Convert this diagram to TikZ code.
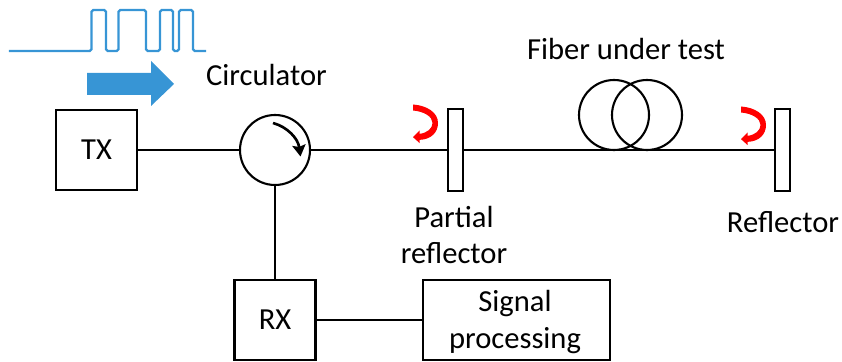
\documentclass[tikz,border=0pt]{standalone}
\usepackage{fontspec}
\setmainfont{Carlito}
\usepackage{xcolor}
\usetikzlibrary{arrows.meta}
\definecolor{pulseblue}{HTML}{3795D5}
\tikzset{
    lbl/.style={font=\fontsize{17.4}{20.5}\selectfont, align=center, inner sep=0pt},
    blockbox/.style={lbl, draw, line width=1.2pt, minimum width=1.62cm, minimum height=1.6cm, outer sep=0pt},
    mirrorbox/.style={draw, line width=1pt, fill=white, minimum width=0.3cm, minimum height=1.64cm, outer sep=0pt, inner sep=0pt},
    loopcircle/.style={draw, circle, line width=1.2pt, minimum size=1.4cm, outer sep=0pt, inner sep=0pt},
    wire/.style={line width=1.1pt}
}
\newcommand{\redturn}[2]{
    \fill[red, shift={(#1,#2)}] (0,0) -- (0,-0.12) .. controls (0.22,-0.14) and (0.39,-0.24) .. (0.39,-0.37)
        .. controls (0.39,-0.48) and (0.28,-0.57) .. (0.133,-0.587) -- (0.133,-0.52) -- (0,-0.653) -- (0.133,-0.773) -- (0.133,-0.707)
        .. controls (0.36,-0.7) and (0.5,-0.56) .. (0.5,-0.37) .. controls (0.5,-0.16) and (0.28,-0.02) .. (0,0) -- cycle;
}

\begin{document}
\begin{tikzpicture}

    \useasboundingbox (0,0) rectangle (16.84,7.22);

    \draw[pulseblue, line width=1.3pt, rounded corners=1pt] (0.18,6.2) -- (1.83,6.2) -- (1.83,7.02) -- (2.12,7.02) -- (2.12,6.2) -- (2.37,6.2) -- (2.37,7.02) -- (2.92,7.02) -- (2.92,6.2) -- (3.2,6.2) -- (3.2,7.02) -- (3.46,7.02) -- (3.46,6.2) -- (3.58,6.2) -- (3.58,7.02) -- (3.86,7.02) -- (3.86,6.2) -- (4.12,6.2);
    \fill[pulseblue] (1.74,5.32) -- (3.02,5.32) -- (3.02,5.1) -- (3.48,5.54) -- (3.02,6) -- (3.02,5.76) -- (1.74,5.76) -- cycle;

    \node[blockbox] (tx) at (1.93,4.22) {TX};
    \node[loopcircle] (circ) at (5.5,4.22) {};
    \node[blockbox] (rx) at (5.5,0.82) {RX};
    \node[blockbox, minimum width=3.74cm] (proc) at (10.33,0.82) {};
    \node[mirrorbox] (partial) at (9.11,4.22) {};
    \node[mirrorbox] (mirror) at (15.65,4.22) {};
    \node[loopcircle] (loopa) at (12.28,4.92) {};
    \node[loopcircle] (loopb) at (12.94,4.92) {};

    \draw[wire] (tx) -- (circ);
    \draw[wire] (circ) -- (partial);
    \draw[wire] (partial) -- (mirror);
    \draw[wire] (circ) -- (rx);
    \draw[wire] (rx) -- (proc);

    \draw[line width=1.5pt, -{Stealth[length=6.5pt,width=7.5pt,inset=1pt]}] (5.46,4.76) .. controls (5.75,4.68) and (5.96,4.45) .. (6.01,4.09);

    \redturn{8.26}{5.13}
    \redturn{14.82}{5.09}

    \node[lbl] (circlabel) at (5.33,5.72) {Circulator};
    \node[lbl] (fiberlabel) at (12.52,6.24) {Fiber under test};
    \node[lbl] (partiallabel) at (9.08,2.52) {Partial\\reflector};
    \node[lbl] (mirrorlabel) at (15.66,2.78) {Reflector};
    \node[lbl] (proclabel) at (10.3,0.78) {Signal\\processing};

\end{tikzpicture}
\end{document}
